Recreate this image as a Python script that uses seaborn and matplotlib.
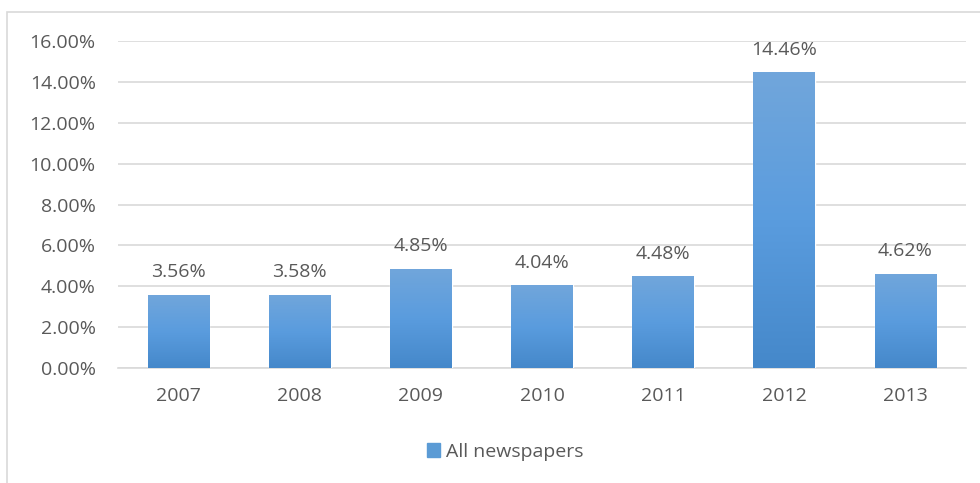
import numpy as np
import pandas as pd
import matplotlib.pyplot as plt
import matplotlib.patches as mpatches
from matplotlib.colors import LinearSegmentedColormap
import seaborn as sns

# Chart values
years = ["2007", "2008", "2009", "2010", "2011", "2012", "2013"]
share = [3.56, 3.58, 4.85, 4.04, 4.48, 14.46, 4.62]
series_name = "All newspapers"

data = pd.DataFrame({"year": years, "share": share})

sns.set_theme(style="white")
plt.rcParams["font.family"] = ["Open Sans", "DejaVu Sans"]

text_color = "#595959"
bar_color = "#5B9BD5"
grid_color = "#D9D9D9"
fs = 14

# Excel style gradient for each bar (top -> bottom)
grad = LinearSegmentedColormap.from_list("bar", ["#4588CA", "#5A9CDE", "#71A6DB"])

fig = plt.figure(figsize=(9.8, 4.83), dpi=100)
ax = fig.add_axes([0.1204, 0.2381, 0.8653, 0.6770])

sns.barplot(data=data, x="year", y="share", color=bar_color, width=0.51,
            saturation=1, ax=ax, zorder=3)

ax.set_yticks(range(0, 17, 2))
ax.set_yticklabels([f"{v:.2f}%" for v in range(0, 17, 2)])
ax.yaxis.grid(True, color=grid_color, linewidth=1.2, zorder=0)
ax.set_axisbelow(True)
ax.set_xlabel("")
ax.set_ylabel("")
for side in ["top", "right", "left"]:
    ax.spines[side].set_visible(False)
ax.spines["bottom"].set_color(grid_color)
ax.spines["bottom"].set_linewidth(1.2)
ax.tick_params(axis="both", length=0, labelsize=fs, colors=text_color)
ax.tick_params(axis="y", pad=16)
ax.tick_params(axis="x", pad=14)

# gradient fill + value labels
gradient = np.linspace(0, 1, 256).reshape(-1, 1)
for patch, v in zip(list(ax.patches), share):
    x0, w, h = patch.get_x(), patch.get_width(), patch.get_height()
    im = ax.imshow(gradient, cmap=grad, aspect="auto", origin="lower",
                   extent=(x0, x0 + w, 0, h), zorder=4)
    im.set_clip_path(patch)
    ax.annotate(f"{v:.2f}%", (x0 + w / 2, h),
                xytext=(0, 10), textcoords="offset points", ha="center", va="bottom",
                fontsize=fs, color=text_color)
ax.set_xlim(-0.5, len(years) - 0.5)
ax.set_ylim(0, 16)

handle = mpatches.Patch(color=bar_color, label=series_name)
fig.legend(handles=[handle], loc="center", bbox_to_anchor=(505 / 980, 1 - 452 / 483),
           frameon=False, fontsize=fs, labelcolor=text_color,
           handlelength=0.7, handleheight=0.7, handletextpad=0.3)

# chart border
fig.patches.append(mpatches.Rectangle((7 / 980, -0.05), 1.1, 1 - 12 / 483 + 0.05,
                                      transform=fig.transFigure, fill=False,
                                      edgecolor=grid_color, linewidth=1.2))

fig.savefig("out.png", dpi=100)
